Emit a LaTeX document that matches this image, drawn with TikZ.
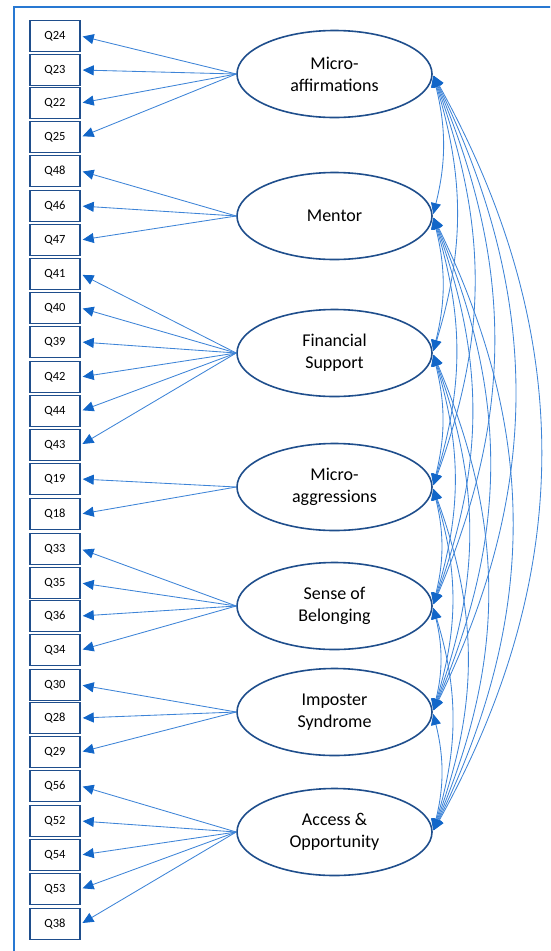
\documentclass[tikz,border=0pt]{standalone}
\usepackage{fontspec}
\setmainfont{Carlito}
\usetikzlibrary{shapes.geometric,arrows.meta}
\definecolor{boxc}{RGB}{31,78,140}
\definecolor{linec}{RGB}{62,132,215}
\definecolor{tipc}{RGB}{18,102,200}
\definecolor{framec}{RGB}{40,120,210}
\begin{document}
\begin{tikzpicture}[x=1pt,y=-1pt,
 ind/.style={draw=boxc,line width=1.5pt,minimum width=50pt,minimum height=31pt,inner sep=0pt,font=\fontsize{12.5}{14}\selectfont},
 lat/.style={ellipse,draw=boxc,line width=1.6pt,minimum width=195pt,minimum height=87pt,inner sep=0pt,align=center,font=\fontsize{18}{22}\selectfont},
 load/.style={draw=linec,line width=0.85pt,-{Triangle[length=11pt,width=10pt,color=tipc]},shorten >=2pt},
 cov/.style={draw=linec,line width=0.85pt,{Triangle[length=11pt,width=10pt,color=tipc]}-{Triangle[length=11pt,width=10pt,color=tipc]},shorten >=2pt,shorten <=2pt}
]
\useasboundingbox (0,0) rectangle (550,951);
\clip (0,0) rectangle (550,951);
\draw[framec,line width=1.5pt] (14,970) -- (14,7) -- (570,7);

% indicators
\foreach \n/\y in {24/36,23/70,22/103,25/137,48/171,46/206,47/240,41/274,40/308,39/342,42/377,44/411,43/445,19/479,18/514,33/549,35/583,36/616,34/650,30/685,28/718,29/752,56/786,52/821,54/855,53/889,38/924}
  \node[ind] (q\n) at (55,\y) {Q\n};

% latent factors
\node[lat] (F1) at (334.5,74) {Micro-\\affirmations};
\node[lat] (F2) at (334.5,216) {Mentor};
\node[lat] (F3) at (334.5,353) {Financial\\Support};
\node[lat] (F4) at (334.5,487) {Micro-\\aggressions};
\node[lat] (F5) at (334.5,606) {Sense of\\Belonging};
\node[lat] (F6) at (334.5,712) {Imposter\\Syndrome};
\node[lat] (F7) at (334.5,832) {Access \&\\Opportunity};

% loadings
\foreach \n in {24,23,22,25} \draw[load] (F1.west) -- (q\n.east);
\foreach \n in {48,46,47} \draw[load] (F2.west) -- (q\n.east);
\foreach \n in {41,40,39,42,44,43} \draw[load] (F3.west) -- (q\n.east);
\foreach \n in {19,18} \draw[load] (F4.west) -- (q\n.east);
\foreach \n in {33,35,36,34} \draw[load] (F5.west) -- (q\n.east);
\foreach \n in {30,28,29} \draw[load] (F6.west) -- (q\n.east);
\foreach \n in {56,52,54,53,38} \draw[load] (F7.west) -- (q\n.east);

% covariances
\foreach \i in {1,...,6}{
  \pgfmathtruncatemacro\s{\i+1}
  \foreach \j in {\s,...,7}{
    \pgfmathsetmacro\ang{14+3*(\j-\i-1)}
    \draw[cov] (F\i.east) to[bend left=\ang] (F\j.east);
  }
}
\end{tikzpicture}
\end{document}
